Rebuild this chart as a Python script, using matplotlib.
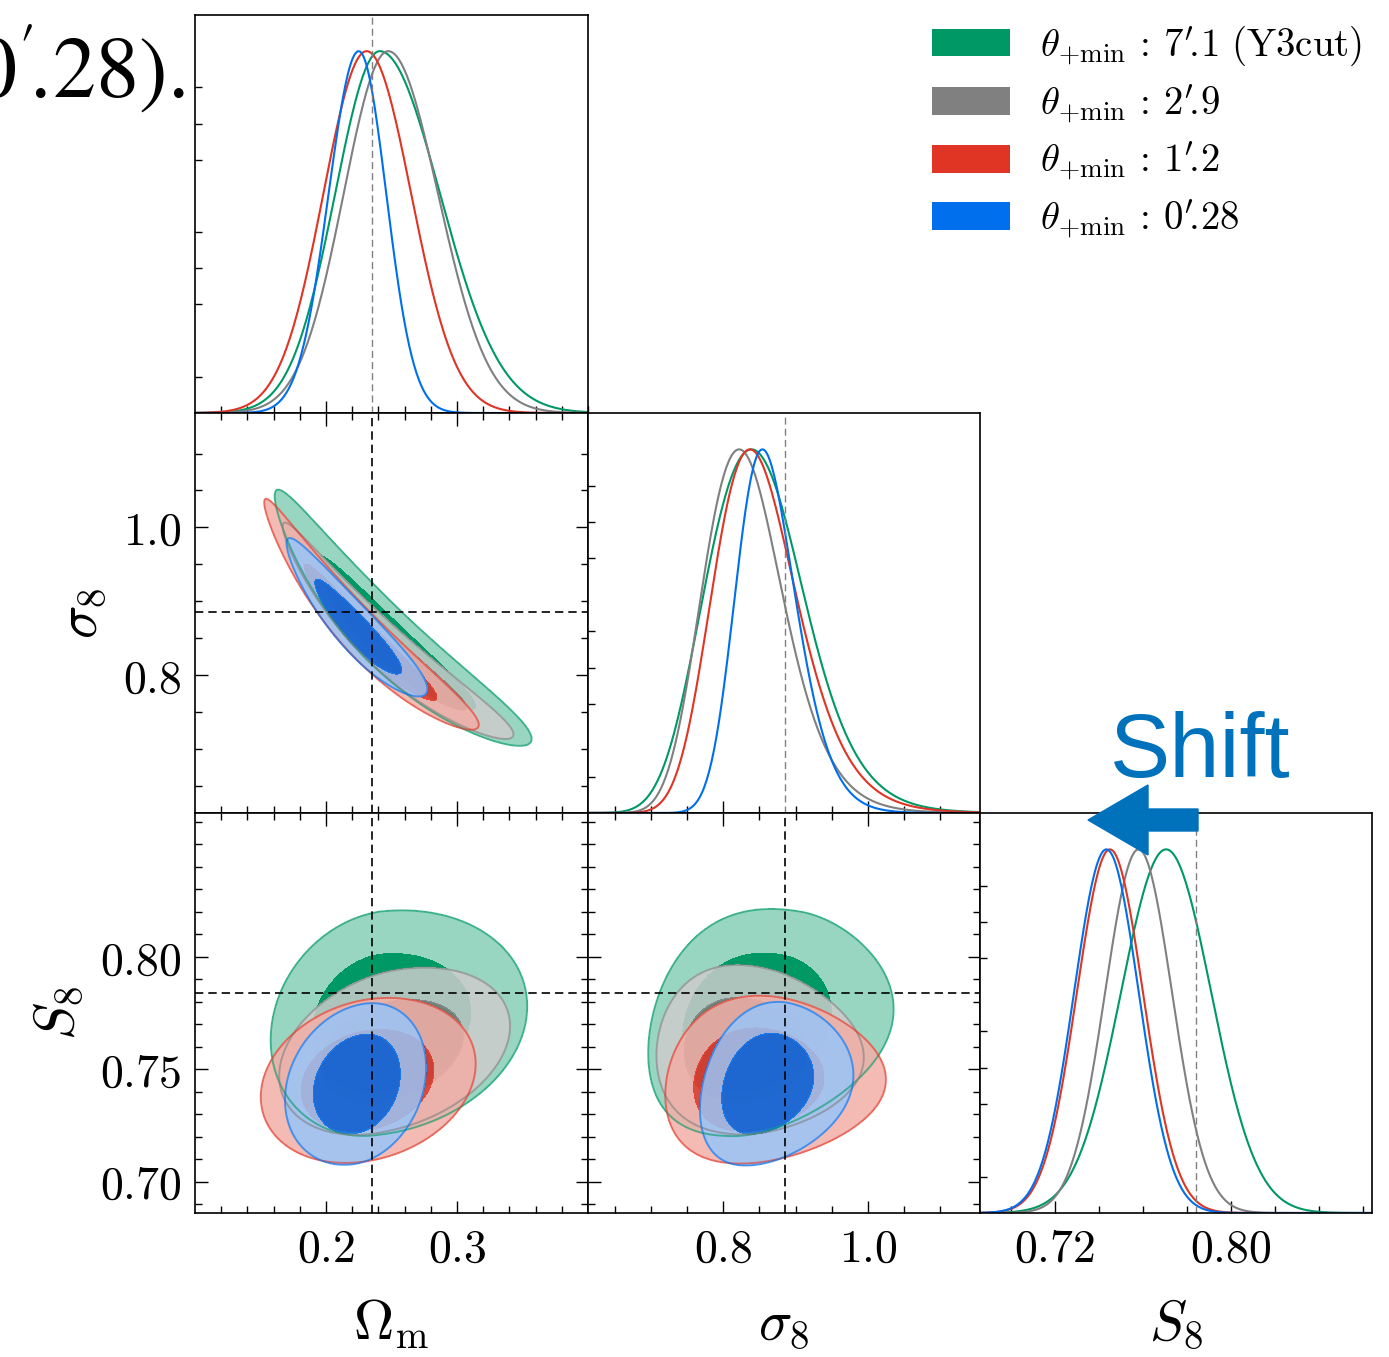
import numpy as np
import matplotlib.pyplot as plt
from matplotlib.patches import Patch, FancyArrow
from matplotlib.colors import to_rgb

plt.rcParams['mathtext.fontset'] = 'cm'
plt.rcParams['font.family'] = ['DejaVu Serif']

# --- series (legend order, green drawn first / bottom) ---
labels = [r"$\theta_{+\mathrm{min}}\,:\,7'\!.\!1\ (\mathrm{Y3cut})$",
          r"$\theta_{+\mathrm{min}}\,:\,2'\!.\!9$",
          r"$\theta_{+\mathrm{min}}\,:\,1'\!.\!2$",
          r"$\theta_{+\mathrm{min}}\,:\,0'\!.\!28$"]
colors = ['#009966', 'gray', '#E03424', '#006FED']

# posterior summaries (Omega_m split widths, S8 width, corr.)
om_mean = [0.241, 0.2475, 0.2310, 0.225]
om_sig_lo = [0.034, 0.034, 0.033, 0.023]
om_sig_hi = [0.046, 0.038, 0.034, 0.021]
s8_mean = [0.7705, 0.758, 0.7450, 0.7434]
s8_sig = [0.0205, 0.0152, 0.0150, 0.0147]
rho = [0.15, 0.3, 0.2, 0.2]

# fiducial values (dashed lines)
om_fid = 0.235
sig8_fid = 0.885
s8_fid = 0.784

om_lim = (0.1, 0.4)
sig8_lim = (0.613, 1.155)
s8_lim = (0.686, 0.864)

om_ticks = [0.2, 0.3]
sig8_ticks = [0.8, 1.0]
s8_yticks = [0.70, 0.75, 0.80]
s8_xticks = [0.72, 0.80]


def dens(i, om, s8):
    sl = np.where(om < om_mean[i], om_sig_lo[i], om_sig_hi[i])
    z = (om - om_mean[i]) / sl
    w = (s8 - s8_mean[i]) / s8_sig[i]
    r = rho[i]
    return np.exp(-(z * z - 2 * r * z * w + w * w) / (2 * (1 - r * r)))


def levels(Z):
    zs = np.sort(Z.ravel())[::-1]
    c = np.cumsum(zs)
    c /= c[-1]
    return zs[np.searchsorted(c, 0.95)], zs[np.searchsorted(c, 0.68)]


W, H = 1389, 1357
fig = plt.figure(figsize=(W / 100, H / 100), dpi=100)

colx = [195, 588, 980, 1372]
rowy = [15, 413, 813, 1213]


def panel(r, c):
    l = colx[c] / W
    w = (colx[c + 1] - colx[c]) / W
    b = 1 - rowy[r + 1] / H
    h = (rowy[r + 1] - rowy[r]) / H
    return fig.add_axes([l, b, w, h])


ax_om = panel(0, 0)
ax_os = panel(1, 0)
ax_sg = panel(1, 1)
ax_oS = panel(2, 0)
ax_sS = panel(2, 1)
ax_S = panel(2, 2)

# grids
om_g = np.linspace(0.04, 0.6, 600)
sg_g = np.linspace(0.45, 1.45, 600)
s8_g = np.linspace(0.6, 0.95, 600)

OM1, SG1 = np.meshgrid(om_g, sg_g)
OM2, S82 = np.meshgrid(om_g, s8_g)
SG3, S83 = np.meshgrid(sg_g, s8_g)

for i in range(4):
    col = np.array(to_rgb(colors[i]))
    pale = col * 0.4 + 0.6
    a = 1.0 if i == 0 else 0.85

    fac = np.sqrt(OM1 / 0.3)
    Z1 = dens(i, OM1, SG1 * fac) * fac
    Z2 = dens(i, OM2, S82)
    om3 = 0.3 * (S83 / SG3) ** 2
    Z3 = dens(i, om3, S83) * 0.6 * S83 ** 2 / SG3 ** 3

    for ax, X, Y, Z in [(ax_os, OM1, SG1, Z1), (ax_oS, OM2, S82, Z2), (ax_sS, SG3, S83, Z3)]:
        l95, l68 = levels(Z)
        ax.contourf(X, Y, Z, levels=[l95, l68, Z.max() * 1.001], colors=[pale, col], alpha=a)
        ax.contour(X, Y, Z, levels=[l95], colors=[col], linewidths=1.4, alpha=0.6)

    # 1D marginals
    sl = np.where(om_g < om_mean[i], om_sig_lo[i], om_sig_hi[i])
    p_om = np.exp(-0.5 * ((om_g - om_mean[i]) / sl) ** 2)
    p_sg = Z1.sum(axis=1)
    p_sg /= p_sg.max()
    p_s8 = np.exp(-0.5 * ((s8_g - s8_mean[i]) / s8_sig[i]) ** 2)
    ax_om.plot(om_g, p_om, color=colors[i], lw=1.5)
    ax_sg.plot(sg_g, p_sg, color=colors[i], lw=1.5)
    ax_S.plot(s8_g, p_s8, color=colors[i], lw=1.5)

dash = (0, (5, 3))
for ax in [ax_os, ax_oS]:
    ax.axvline(om_fid, color='k', ls=dash, lw=1.2)
ax_os.axhline(sig8_fid, color='k', ls=dash, lw=1.2)
ax_oS.axhline(s8_fid, color='k', ls=dash, lw=1.2)
ax_sS.axvline(sig8_fid, color='k', ls=dash, lw=1.2)
ax_sS.axhline(s8_fid, color='k', ls=dash, lw=1.2)
ax_om.axvline(om_fid, color='gray', ls=dash, lw=1.0)
ax_sg.axvline(sig8_fid, color='gray', ls=dash, lw=1.0)
ax_S.axvline(s8_fid, color='gray', ls=dash, lw=1.0)

tick_fs = 33


def fmt(v, n):
    return '$' + ('%.' + str(n) + 'f') % v + '$'


for ax in [ax_om, ax_os, ax_oS]:
    ax.set_xlim(*om_lim)
    ax.set_xticks(om_ticks, [fmt(v, 1) for v in om_ticks])
    ax.set_xticks(np.arange(0.12, 0.4, 0.02), minor=True)
for ax in [ax_sg, ax_sS]:
    ax.set_xlim(*sig8_lim)
    ax.set_xticks(sig8_ticks, [fmt(v, 1) for v in sig8_ticks])
    ax.set_xticks(np.arange(0.65, 1.15, 0.05), minor=True)
ax_os.set_ylim(*sig8_lim)
ax_os.set_yticks(sig8_ticks, [fmt(v, 1) for v in sig8_ticks])
ax_os.set_yticks(np.arange(0.65, 1.15, 0.05), minor=True)
for ax in [ax_oS, ax_sS]:
    ax.set_ylim(*s8_lim)
    ax.set_yticks(s8_yticks, [fmt(v, 2) for v in s8_yticks])
    ax.set_yticks(np.arange(0.69, 0.864, 0.01), minor=True)
ax_S.set_xlim(*s8_lim)
ax_S.set_xticks(s8_xticks, [fmt(v, 2) for v in s8_xticks])
ax_S.set_xticks(np.arange(0.70, 0.864, 0.02), minor=True)

for ax in [ax_os, ax_oS, ax_sS]:
    ax.tick_params(which='both', direction='in', top=True, right=True, width=1.0,
                   labelsize=tick_fs, pad=10)
    ax.tick_params(which='major', length=9)
    ax.tick_params(which='minor', length=5)

for ax in [ax_om, ax_sg, ax_S]:
    ax.set_ylim(0, 1.1)
    ax.set_yticks([0.1, 0.3, 0.4, 0.5, 0.7, 0.8, 0.9])
    ax.tick_params(which='both', direction='in', top=False, right=False, width=1.0,
                   labelsize=tick_fs, pad=10, labelleft=False)
    ax.tick_params(which='major', length=9)
    ax.tick_params(which='minor', length=5)
    ax.tick_params(axis='y', length=5)

for ax in [ax_om, ax_os, ax_sg]:
    ax.tick_params(labelbottom=False)
ax_sS.tick_params(labelleft=False)

for ax in [ax_om, ax_os, ax_sg, ax_oS, ax_sS, ax_S]:
    for s in ax.spines.values():
        s.set_linewidth(1.2)

lab_fs = 40
ax_oS.set_xlabel(r'$\Omega_{\rm m}$', fontsize=lab_fs, labelpad=18)
ax_sS.set_xlabel(r'$\sigma_8$', fontsize=lab_fs, labelpad=18)
ax_S.set_xlabel(r'$S_8$', fontsize=lab_fs, labelpad=18)
ax_os.set_ylabel(r'$\sigma_8$', fontsize=lab_fs, labelpad=10)
ax_oS.set_ylabel(r'$S_8$', fontsize=lab_fs, labelpad=10)

handles = [Patch(facecolor=c, edgecolor='none') for c in colors]
fig.legend(handles, labels, loc='upper left', bbox_to_anchor=(932 / W, 1 - 24 / H),
           frameon=False, fontsize=28, handlelength=2.0, handleheight=0.72,
           handletextpad=0.78, labelspacing=0.36, borderpad=0, borderaxespad=0)

# cropped caption text at top left (runs off the figure edge, as in the source)
fig.text(185 / W, 1 - 97 / H, r"$\mathrm{(0'\!.\!28).}$", ha='right', va='baseline',
         fontsize=62, math_fontfamily='stix')

# shift annotation
blue = '#0072BC'
fig.text(1110 / W, 1 - 777 / H, 'Shift', ha='left', va='baseline', fontsize=65,
         family='Liberation Sans', color=blue)
arr = FancyArrow(11.98, (H - 820) / 100, -1.10, 0, width=0.22, head_width=0.70,
                 head_length=0.60, length_includes_head=True, color=blue,
                 transform=fig.dpi_scale_trans, zorder=5)
fig.patches.append(arr)

fig.savefig('out.png', dpi=100)
